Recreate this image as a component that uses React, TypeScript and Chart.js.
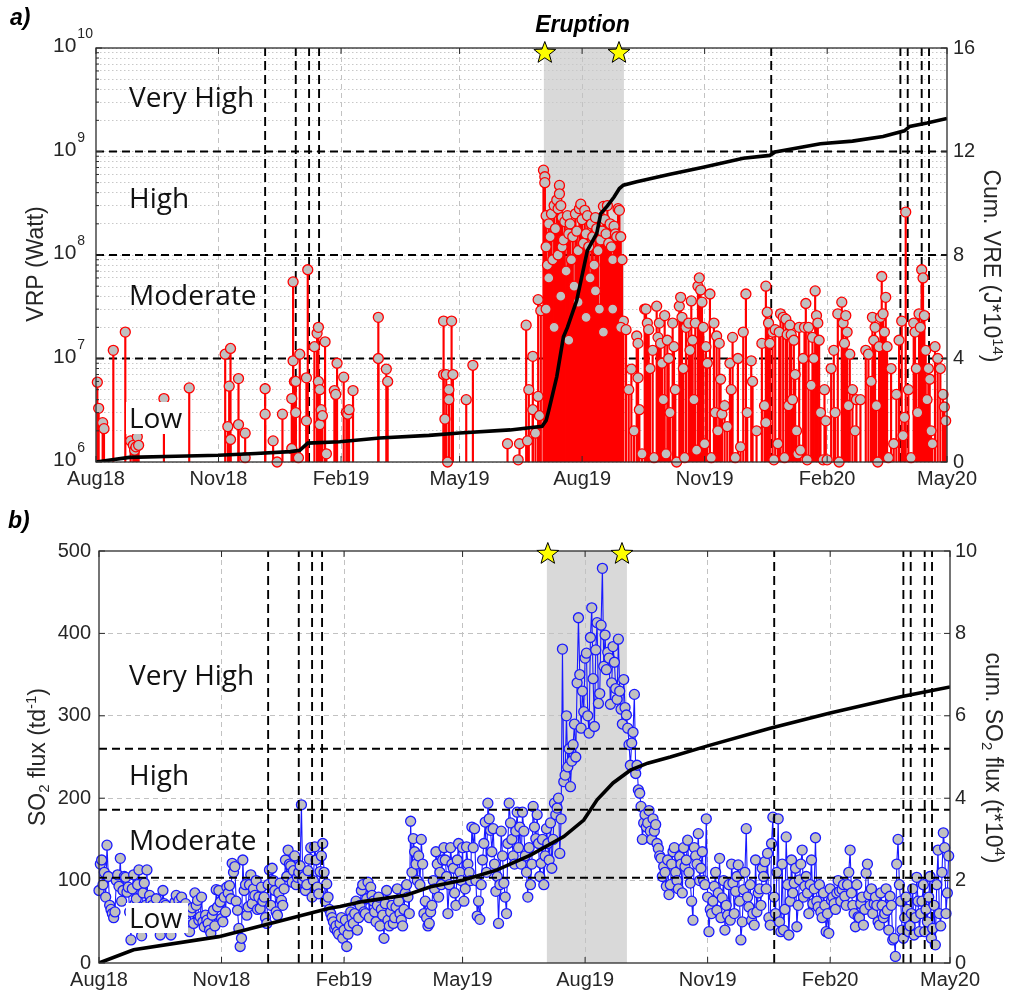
import React, { useEffect, useRef } from 'react';
import { Chart, registerables } from 'chart.js';

Chart.register(...registerables);

const SANS = '"Liberation Sans", Arial, Helvetica, sans-serif';
const CLASS_FONT = '"Open Sans", "Noto Sans", sans-serif';

// ---------- shared time axis: days since 1 Aug 2018 ----------
const X_MAX = 639;
const X_TICK_DAYS = [0, 92, 184, 273, 365, 457, 549, 639];
const X_TICK_LABELS = ['Aug18', 'Nov18', 'Feb19', 'May19', 'Aug19', 'Nov19', 'Feb20', 'May20'];
const ERUPTION_START = 336.3;
const ERUPTION_END = 396.4;
const STAR_DAYS = [337, 392.7];
const EVENT_DAYS = [127, 150, 160, 167.5, 507, 604, 609.5, 620, 625.5];
const CLASS_LABELS = ['Very High', 'High', 'Moderate', 'Low'];

// ---------- panel a: VRP ----------
const VRP_THRESHOLDS = [1e7, 1e8, 1e9];
const LOG_EXPONENTS = [6, 7, 8, 9, 10];
const VRE_TICK_STEP = 4;

const VRP_DAYS = [
  1, 2, 5, 6, 13, 22, 26, 28, 29, 30,
  31, 32, 51, 70, 97, 99, 100, 101, 101, 107,
  107, 112, 112, 127, 127, 133, 136, 140, 147, 147,
  148, 148, 149, 150, 150, 152, 153, 158, 158, 159,
  164, 166, 167, 167, 168, 168, 169, 170, 172, 173,
  179, 180, 181, 186, 188, 189, 190, 193, 212, 212,
  218, 219, 261, 261, 262, 263, 264, 265, 265, 267,
  268, 278, 283, 309, 317, 318, 323, 324, 325, 328,
  328, 330, 332, 332, 333, 334,
  336, 337, 337, 338, 338, 339, 340, 340, 341, 342,
  343, 344, 345, 346, 347, 347, 348, 348, 349, 350,
  350, 351, 352, 353, 354, 355, 356, 357, 358, 359,
  360, 361, 362, 363, 364, 365, 366, 367, 368, 369,
  370, 371, 372, 373, 374, 375, 376, 377, 378, 379,
  380, 381, 382, 383, 384, 385, 386, 387, 388, 389,
  390, 391, 392, 393, 394, 395, 396,
  338, 344, 349, 355, 362, 368, 375, 381, 388, 394,
  398, 400, 402, 404, 406, 407, 407, 408, 410, 412,
  413, 414, 415, 416, 418, 419, 421, 422, 423, 424,
  425, 426, 427, 428, 429, 430, 431, 433, 434, 435,
  436, 438, 439, 440, 441, 442, 443, 445, 446, 447,
  448, 449, 450, 451, 452, 453, 454, 455, 456, 457,
  458, 459, 461, 462, 464, 465, 466, 467, 468, 469,
  470, 472, 474, 476, 477, 478, 480, 482, 484, 486,
  488, 489, 492, 493, 496, 500, 502, 503, 503, 504,
  505, 506, 508, 509, 510, 512, 513, 514, 516, 517,
  518, 519, 520, 521, 522, 523, 524, 525, 526, 527,
  528, 529, 531, 532, 533, 534, 535, 537, 538, 539,
  540, 541, 542, 543, 544, 546, 547, 548, 549, 552,
  554, 555, 557, 558, 560, 561, 562, 563, 564, 565,
  566, 568, 570, 571, 574, 578, 580, 582, 583, 584,
  585, 586, 587, 588, 589, 590, 591, 592, 593, 594,
  595, 597, 599, 601, 603, 605, 606, 607, 608, 610,
  612, 614, 615, 616, 617, 618, 619, 620, 621, 622,
  623, 624, 625, 626, 627, 628, 630, 632, 634, 636,
  637, 638,
];
const VRP_WATTS = [
  5.9e6, 3.3e6, 2.4e6, 2.1e6, 1.2e7, 1.8e7, 1.6e6, 1.45e6, 1.3e6, 1.4e6,
  1.75e6, 1.45e6, 4.1e6, 5.2e6, 1.1e7, 2.2e6, 5.4e6, 1.25e7, 1.65e6, 6.4e6,
  2.3e6, 1.9e6, 1.1e6, 5.1e6, 2.9e6, 1.6e6, 1.0e6, 2.9e6, 1.35e6, 4.1e6,
  9.5e6, 5.5e7, 6e6, 3e6, 6e6, 1.1e6, 1.1e7, 6.5e6, 2.5e6, 7.2e7,
  1.3e7, 1.75e7, 2e7, 6e6, 5e6, 2.3e6, 3.2e6, 2.8e6, 1.45e7, 1.2e6,
  4.9e6, 4.5e6, 9e6, 6.6e6, 3e6, 2.9e6, 3.2e6, 4.9e6, 2.5e7, 1e7,
  7.9e6, 6e6, 2.3e7, 7e6, 2.6e6, 7e6, 1e6, 5e6, 4e6, 2.3e7,
  7e6, 4e6, 8.6e6, 1.5e6, 1.05e6, 1.5e6, 2.1e7, 1.6e6, 5e6, 1.05e7,
  3.2e6, 1.9e6, 3.7e7, 4.3e6, 2.8e6, 2.9e7,
  6.6e8, 5.7e8, 5e8, 2.4e8, 1.2e8, 8e7, 2e8, 6e7, 1.5e8, 2.5e8,
  9e7, 3e8, 1.8e8, 3.4e8, 2.8e8, 1e8, 4.7e8, 3.9e8, 3e8, 2.3e8,
  1.2e8, 1.4e8, 2.1e8, 7e7, 2.4e8, 1.6e8, 2e8, 9e7, 1.5e8, 5e7,
  2.5e8, 1.7e8, 1.1e8, 2.8e8, 3.1e8, 2.2e8, 1.3e8, 2.7e8, 1.6e8, 2.4e8,
  1.2e8, 6e7, 2e8, 1.5e8, 8e7, 2.3e8, 1.8e8, 1.1e8, 3e7, 1.4e8,
  1.7e8, 2.95e8, 2.2e8, 1.6e8, 3e8, 1.3e8, 2e8, 1.2e8, 9e7, 1.9e8,
  1.6e8, 1.5e8, 2.8e8, 2.7e8, 1.5e8, 9e7, 2.3e7,
  3e7, 2e7, 4e7, 1.5e7, 3.5e7, 2.5e7, 4.5e7, 1.8e7, 3e7, 2e7,
  1.9e7, 5e6, 7.9e6, 2e6, 1.65e7, 1.4e7, 6.5e6, 3.2e6, 1.2e6, 3e7,
  3e7, 2.2e7, 1.9e7, 8e6, 1.2e7, 1.1e6, 3.2e7, 1.6e7, 2.2e7, 1.4e7,
  9e6, 4e6, 2.6e7, 1.2e6, 1.5e7, 1e7, 3e6, 2.2e7, 1.3e7, 5e6,
  1e6, 3.2e7, 3.9e7, 2.5e7, 8e6, 1.1e6, 2e7, 2.2e7, 1.2e7, 3.6e7,
  1.5e7, 4e6, 2.2e7, 1.3e6, 5e7, 6e7, 4.6e7, 3.5e7, 2e7, 1.5e6,
  1.3e7, 9e6, 4.2e7, 1.1e6, 2.2e7, 3e6, 1.65e7, 2e6, 1.4e7, 6.3e6,
  2.9e6, 3.5e6, 2.2e6, 9e6, 5e6, 1.6e7, 1.1e6, 1e7, 1.4e6, 1.8e7,
  4.2e7, 3e6, 9.5e6, 6e6, 2e6, 1.4e7, 3.5e6, 5e7, 2.4e6, 2.8e7,
  2.2e7, 1.4e7, 1.8e7, 1.05e6, 1.9e7, 1.5e6, 1.8e7, 2.7e7, 2.5e7, 1.1e6,
  2.4e7, 1.7e7, 3.5e6, 2.1e7, 1.7e7, 4e6, 1.5e7, 7e6, 2e6, 1.2e6,
  2e7, 1.3e6, 1e7, 2e7, 3.4e7, 1.05e6, 2e7, 5.5e6, 1.6e7, 1e7,
  4.5e7, 2.6e7, 2.2e7, 1.5e7, 3e6, 1.05e6, 5e6, 2.5e6, 1.05e6, 8e6,
  1.2e7, 3e6, 2.7e7, 1e6, 3.5e7, 2.2e7, 1.4e7, 2.6e7, 1.8e7, 3.5e6,
  1.1e7, 5e6, 2e6, 4e6, 4e6, 1.2e7, 1.1e7, 6e6, 2.5e7, 1.5e7,
  2e7, 3.5e6, 1e6, 1.3e7, 2.5e7, 6.2e7, 2.7e7, 1.8e7, 3.9e7, 1.3e7,
  1.1e6, 8e6, 1.5e6, 4.5e6, 1.5e7, 2.3e7, 1.8e6, 2.7e6, 2.6e8, 5e6,
  1.1e6, 2.2e7, 1.8e7, 8e6, 3e6, 2.7e7, 2e7, 7.2e7, 6e7, 2.6e7,
  1.2e7, 4e6, 8e6, 6.3e6, 2e6, 1.5e6, 1.3e7, 1e7, 8e6, 4.5e6,
  3.4e6, 2.5e6,
];

const CUM_VRE_DAYS = [0, 25, 60, 92, 120, 146, 153, 159, 183, 213, 250, 273, 311, 335, 338, 340, 346, 351, 354, 361, 369, 376, 379, 384, 389, 393, 396, 406, 431, 456, 486, 506, 510, 544, 568, 591, 607, 611, 624, 639];
const CUM_VRE_VALUES = [0, 0.18, 0.22, 0.26, 0.33, 0.4, 0.45, 0.73, 0.78, 0.93, 1.03, 1.12, 1.24, 1.38, 1.6, 2.0, 3.3, 4.84, 5.2, 6.25, 8.18, 8.84, 9.6, 9.9, 10.24, 10.57, 10.7, 10.83, 11.12, 11.39, 11.74, 11.85, 11.98, 12.3, 12.4, 12.58, 12.8, 12.97, 13.1, 13.28];

// ---------- panel b: SO2 (daily, t/d) ----------
const SO2_THRESHOLDS = [103.5, 186, 260];
// readings on even days (0, 2, 4, ... 638)
const SO2_FLUX_EVEN_DAYS = [
  88, 125, 110, 143, 70, 60, 62, 107, 127, 88,
  104, 92, 28, 107, 78, 113, 33, 97, 113, 82,
  70, 64, 66, 34, 88, 70, 55, 34, 60, 82,
  76, 80, 58, 60, 38, 67, 85, 76, 56, 50,
  58, 48, 36, 64, 89, 88, 54, 80, 92, 94,
  121, 117, 64, 20, 125, 95, 68, 107, 90, 100,
  80, 92, 80, 48, 113, 115, 88, 58, 97, 70,
  125, 137, 118, 112, 95, 110, 192, 105, 95, 126,
  80, 141, 92, 111, 145, 75, 80, 60, 50, 45,
  35, 55, 40, 20, 45, 55, 60, 40, 70, 95,
  60, 98, 92, 75, 50, 80, 65, 30, 88, 45,
  70, 55, 90, 60, 45, 85, 80, 172, 151, 120,
  130, 150, 60, 55, 48, 70, 90, 120, 110, 125,
  125, 60, 140, 115, 70, 145, 100, 75, 141, 110,
  165, 163, 57, 53, 125, 171, 194, 161, 163, 87,
  48, 160, 97, 60, 194, 150, 120, 183, 165, 183,
  130, 80, 95, 190, 151, 145, 121, 95, 163, 125,
  115, 194, 188, 133, 381, 228, 238, 214, 265, 250,
  419, 285, 305, 376, 279, 431, 287, 413, 327, 479,
  398, 377, 314, 384, 333, 393, 308, 344, 301, 265,
  267, 326, 240, 206, 150, 180, 170, 160, 175, 168,
  139, 127, 117, 93, 83, 120, 140, 100, 129, 85,
  117, 149, 97, 52, 130, 157, 115, 100, 175, 38,
  60, 93, 64, 127, 79, 40, 58, 52, 97, 87,
  119, 28, 89, 163, 68, 52, 46, 62, 90, 115,
  123, 133, 46, 177, 60, 175, 38, 40, 153, 34,
  125, 97, 44, 101, 137, 93, 85, 95, 72, 152,
  68, 62, 85, 38, 36, 76, 72, 85, 87, 89,
  81, 95, 137, 70, 44, 56, 72, 46, 109, 83,
  90, 72, 70, 46, 70, 60, 64, 81, 28, 8,
  150, 75, 30, 80, 38, 60, 34, 104, 38, 75,
  38, 50, 105, 42, 22, 137, 45, 158, 60, 130,
];
// readings on odd days (1, 3, 5, ... 637)
const SO2_FLUX_ODD_DAYS = [
  120, 95, 80, 105, 65, 55, 100, 93, 75, 105,
  86, 62, 90, 72, 95, 60, 85, 70, 58, 75,
  62, 78, 45, 55, 72, 60, 48, 66, 74, 58,
  68, 55, 72, 45, 62, 48, 70, 52, 80, 44,
  52, 40, 58, 45, 68, 74, 50, 62, 85, 78,
  110, 75, 42, 30, 88, 58, 95, 72, 82, 65,
  66, 75, 55, 95, 70, 100, 62, 85, 76, 90,
  105, 120, 98, 130, 104, 118, 100, 88, 112, 140,
  100, 125, 84, 130, 110, 96, 65, 55, 42, 38,
  48, 30, 52, 35, 62, 48, 75, 55, 88, 62,
  78, 55, 82, 62, 70, 45, 58, 72, 52, 62,
  48, 68, 75, 52, 65, 95, 60, 110, 135, 100,
  95, 120, 75, 45, 62, 100, 135, 80, 95, 140,
  105, 95, 120, 85, 125, 110, 140, 90, 120, 100,
  140, 100, 75, 95, 145, 110, 175, 135, 120, 105,
  95, 130, 80, 145, 170, 130, 160, 140, 120, 160,
  110, 140, 120, 165, 180, 105, 150, 130, 145, 170,
  150, 180, 200, 175, 220, 300, 260, 245, 290, 340,
  350, 330, 370, 300, 395, 345, 380, 315, 410, 360,
  356, 370, 340, 365, 320, 330, 290, 310, 285, 240,
  280, 230, 210, 190, 170, 165, 185, 150, 160, 145,
  130, 105, 110, 125, 95, 135, 110, 90, 120, 140,
  125, 110, 75, 140, 120, 100, 135, 95, 80, 65,
  75, 110, 85, 55, 100, 70, 95, 120, 60, 105,
  75, 50, 110, 80, 95, 60, 125, 85, 70, 105,
  90, 55, 145, 80, 110, 50, 120, 65, 95, 75,
  85, 115, 70, 120, 80, 105, 60, 125, 90, 75,
  95, 55, 70, 60, 90, 80, 65, 100, 75, 95,
  70, 110, 85, 60, 95, 55, 80, 65, 120, 70,
  60, 80, 50, 85, 55, 90, 40, 70, 30, 120,
  95, 40, 55, 65, 45, 90, 55, 75, 60, 95,
  65, 80, 30, 70, 95, 60, 110, 140, 85,
];
const CUM_SO2_DAYS = [0, 26, 90, 173, 181, 198, 231, 249, 273, 299, 324, 349, 364, 374, 386, 399, 412, 429, 457, 504, 549, 602, 639];
const CUM_SO2_VALUES = [0, 0.32, 0.64, 1.33, 1.37, 1.49, 1.65, 1.85, 2.01, 2.26, 2.62, 3.07, 3.47, 3.96, 4.37, 4.68, 4.85, 5.0, 5.27, 5.70, 6.07, 6.46, 6.70];

// ---------- helpers ----------
const TICK_COLOR = '#262626';

function xScaleOptions(axisHeight: number) {
  return {
    type: 'linear',
    min: 0,
    max: X_MAX,
    offset: false,
    afterBuildTicks: (s: any) => {
      s.ticks = X_TICK_DAYS.map((v) => ({ value: v }));
    },
    afterFit: (s: any) => {
      s.height = axisHeight;
    },
    ticks: {
      autoSkip: false,
      maxRotation: 0,
      minRotation: 0,
      padding: 5,
      color: TICK_COLOR,
      font: { family: SANS, size: 20 },
      callback: (v: number) => {
        const i = X_TICK_DAYS.indexOf(v);
        return i >= 0 ? X_TICK_LABELS[i] : '';
      },
    },
    grid: {
      offset: false,
      drawTicks: false,
      lineWidth: 1,
      color: (c: any) =>
        c.tick && (c.tick.value === 0 || c.tick.value === X_MAX) ? 'rgba(0,0,0,0)' : '#c2c2c2',
    },
    border: { display: false, dash: [5, 4] },
  };
}

function hLineDataset(level: number, order: number) {
  return {
    type: 'line',
    data: [
      { x: 0, y: level },
      { x: X_MAX, y: level },
    ],
    borderColor: '#000',
    borderWidth: 1.9,
    borderDash: [8, 5],
    pointRadius: 0,
    yAxisID: 'y',
    order,
  };
}

function vLineDataset(day: number, lo: number, hi: number, order: number) {
  return {
    type: 'line',
    data: [
      { x: day, y: lo },
      { x: day, y: hi },
    ],
    borderColor: '#000',
    borderWidth: 1.9,
    borderDash: [9, 5],
    pointRadius: 0,
    yAxisID: 'y',
    order,
  };
}

function drawBand(chart: any) {
  const { ctx, chartArea: a, scales } = chart;
  const x0 = scales.x.getPixelForValue(ERUPTION_START);
  const x1 = scales.x.getPixelForValue(ERUPTION_END);
  ctx.save();
  ctx.fillStyle = '#d9d9d9';
  ctx.fillRect(x0, a.top, x1 - x0, a.bottom - a.top);
  ctx.restore();
}

function line(ctx: any, x0: number, y0: number, x1: number, y1: number) {
  ctx.beginPath();
  ctx.moveTo(x0, y0);
  ctx.lineTo(x1, y1);
  ctx.stroke();
}

function drawFrame(chart: any, leftTicks: { v: number; len: number }[]) {
  const { ctx, chartArea: a, scales } = chart;
  ctx.save();
  ctx.strokeStyle = '#2b2b2b';
  ctx.lineWidth = 1;
  for (const d of X_TICK_DAYS) {
    const px = scales.x.getPixelForValue(d);
    line(ctx, px, a.bottom, px, a.bottom - 6);
    line(ctx, px, a.top, px, a.top + 6);
  }
  for (const t of scales.y2.ticks) {
    const py = scales.y2.getPixelForValue(t.value);
    line(ctx, a.right, py, a.right - 6, py);
  }
  for (const t of leftTicks) {
    const py = scales.y.getPixelForValue(t.v);
    line(ctx, a.left, py, a.left + t.len, py);
  }
  ctx.lineWidth = 1.3;
  ctx.strokeRect(a.left, a.top, a.right - a.left, a.bottom - a.top);
  ctx.restore();
}

function drawStar(ctx: any, cx: number, cy: number, R: number, r: number) {
  ctx.beginPath();
  for (let i = 0; i < 10; i++) {
    const ang = -Math.PI / 2 + (i * Math.PI) / 5;
    const rad = i % 2 === 0 ? R : r;
    const px = cx + rad * Math.cos(ang);
    const py = cy + rad * Math.sin(ang);
    if (i === 0) ctx.moveTo(px, py);
    else ctx.lineTo(px, py);
  }
  ctx.closePath();
  ctx.fillStyle = '#ffff00';
  ctx.fill();
  ctx.strokeStyle = '#000';
  ctx.lineWidth = 1;
  ctx.stroke();
}

function drawStars(chart: any, cy: number) {
  const { ctx, scales } = chart;
  ctx.save();
  for (const d of STAR_DAYS) drawStar(ctx, scales.x.getPixelForValue(d), cy, 11.5, 4.8);
  ctx.restore();
}

type Run = { t: string; size: number; dy: number };
function drawRich(ctx: any, runs: Run[], bx: number, cy: number, rot: number) {
  ctx.save();
  ctx.translate(bx, cy);
  ctx.rotate(rot);
  const widths: number[] = [];
  let total = 0;
  for (const r of runs) {
    ctx.font = `${r.size}px ${SANS}`;
    const w = ctx.measureText(r.t).width;
    widths.push(w);
    total += w;
  }
  let x = -total / 2;
  ctx.fillStyle = TICK_COLOR;
  ctx.textAlign = 'left';
  ctx.textBaseline = 'alphabetic';
  runs.forEach((r, i) => {
    ctx.font = `${r.size}px ${SANS}`;
    ctx.fillText(r.t, x, r.dy);
    x += widths[i];
  });
  ctx.restore();
}

function drawClassLabels(ctx: any, ys: number[], box: number[]) {
  ctx.save();
  ctx.fillStyle = '#ffffff';
  ctx.fillRect(box[0], box[1], box[2], box[3]);
  ctx.font = `28px ${CLASS_FONT}`;
  ctx.fillStyle = '#111';
  ctx.textAlign = 'left';
  ctx.textBaseline = 'alphabetic';
  CLASS_LABELS.forEach((t, i) => ctx.fillText(t, 129, ys[i]));
  ctx.restore();
}

function drawItalicBold(ctx: any, text: string, x: number, y: number, size: number, align: string) {
  ctx.save();
  ctx.font = `italic bold ${size}px ${SANS}`;
  ctx.fillStyle = '#000';
  ctx.textAlign = align;
  ctx.textBaseline = 'alphabetic';
  ctx.fillText(text, x, y);
  ctx.restore();
}

const LOG_TICKS: number[] = [];
LOG_EXPONENTS.forEach((e) => {
  if (e === 10) LOG_TICKS.push(1e10);
  else for (let k = 1; k <= 9; k++) LOG_TICKS.push(k * Math.pow(10, e));
});

// ---------- top chart ----------
function buildTop(canvas: HTMLCanvasElement) {
  const points = VRP_DAYS.map((d, i) => ({ x: d, y: VRP_WATTS[i] }));
  const stems = VRP_DAYS.map((d, i) => ({ x: d, y: [1e6, VRP_WATTS[i]] }));
  const cum = CUM_VRE_DAYS.map((d, i) => ({ x: d, y: CUM_VRE_VALUES[i] }));

  const datasets: any[] = [
    {
      type: 'line',
      data: cum,
      yAxisID: 'y2',
      borderColor: '#000',
      borderWidth: 3.6,
      pointRadius: 0,
      tension: 0,
      order: 0,
    },
    {
      type: 'line',
      data: points,
      yAxisID: 'y',
      showLine: false,
      pointRadius: 5,
      pointBackgroundColor: '#c0c0c0',
      pointBorderColor: '#ff0000',
      pointBorderWidth: 1.3,
      clip: false,
      order: 1,
    },
    {
      type: 'bar',
      data: stems,
      yAxisID: 'y',
      backgroundColor: '#ff0000',
      barThickness: 1.5,
      order: 2,
    },
    ...VRP_THRESHOLDS.map((l) => hLineDataset(l, 3)),
    ...EVENT_DAYS.map((d) => vLineDataset(d, 1e6, 1e10, 3)),
  ];

  const decor = {
    id: 'topDecor',
    beforeDraw(chart: any) {
      drawBand(chart);
    },
    afterDatasetsDraw(chart: any) {
      drawClassLabels(chart.ctx, [107, 208, 305, 428], [126, 402, 62, 32]);
    },
    afterDraw(chart: any) {
      const { ctx, scales } = chart;
      const leftTicks = LOG_TICKS.map((v) => ({ v, len: Number.isInteger(Math.log10(v)) ? 6 : 3 }));
      drawFrame(chart, leftTicks);
      ctx.save();
      ctx.fillStyle = TICK_COLOR;
      ctx.textAlign = 'left';
      ctx.textBaseline = 'alphabetic';
      for (const e of LOG_EXPONENTS) {
        const py = scales.y.getPixelForValue(Math.pow(10, e));
        ctx.font = `21px ${SANS}`;
        ctx.fillText('10', 53, py + 4);
        const w = ctx.measureText('10').width;
        ctx.font = `14px ${SANS}`;
        ctx.fillText(String(e), 53 + w + 1, py + 4 - 14);
      }
      ctx.restore();
      drawStars(chart, chart.chartArea.top + 5);
      drawRich(ctx, [{ t: 'VRP (Watt)', size: 23, dy: 0 }], 43, 264, -Math.PI / 2);
      drawRich(
        ctx,
        [
          { t: 'Cum. VRE (J*10', size: 23, dy: 0 },
          { t: '14', size: 15, dy: -9 },
          { t: ')', size: 23, dy: 0 },
        ],
        984,
        266,
        Math.PI / 2
      );
      drawItalicBold(ctx, 'a)', 10, 25, 23, 'left');
      drawItalicBold(ctx, 'Eruption', 582.5, 32, 23, 'center');
    },
  };

  return new Chart(canvas, {
    type: 'line',
    data: { datasets },
    options: {
      responsive: false,
      animation: false,
      events: [],
      layout: { padding: { top: 48, left: 0, right: 0, bottom: 0 } },
      plugins: { legend: { display: false }, tooltip: { enabled: false } },
      scales: {
        x: xScaleOptions(38),
        y: {
          type: 'logarithmic',
          position: 'left',
          min: 1e6,
          max: 1e10,
          afterBuildTicks: (s: any) => {
            s.ticks = LOG_TICKS.map((v) => ({ value: v }));
          },
          afterFit: (s: any) => {
            s.width = 96;
          },
          ticks: { display: false },
          grid: { drawTicks: false, lineWidth: 1, color: '#c8c8c8' },
          border: { display: false, dash: [1.5, 2.5] },
        },
        y2: {
          type: 'linear',
          position: 'right',
          min: 0,
          max: 16,
          afterFit: (s: any) => {
            s.width = 63;
          },
          ticks: { stepSize: VRE_TICK_STEP, padding: 6, color: TICK_COLOR, font: { family: SANS, size: 20 } },
          grid: { display: false, drawTicks: false },
          border: { display: false },
        },
      },
    } as any,
    plugins: [decor],
  } as any);
}

// ---------- bottom chart ----------
function buildBottom(canvas: HTMLCanvasElement) {
  const so2: { x: number; y: number }[] = [];
  SO2_FLUX_EVEN_DAYS.forEach((v, i) => {
    so2.push({ x: 2 * i, y: v });
    if (i < SO2_FLUX_ODD_DAYS.length) so2.push({ x: 2 * i + 1, y: SO2_FLUX_ODD_DAYS[i] });
  });
  const cum = CUM_SO2_DAYS.map((d, i) => ({ x: d, y: CUM_SO2_VALUES[i] }));

  const datasets: any[] = [
    {
      type: 'line',
      data: cum,
      yAxisID: 'y2',
      borderColor: '#000',
      borderWidth: 3.6,
      pointRadius: 0,
      tension: 0,
      order: 0,
    },
    ...SO2_THRESHOLDS.map((l) => hLineDataset(l, 1)),
    ...EVENT_DAYS.map((d) => vLineDataset(d, 0, 500, 1)),
    {
      type: 'line',
      data: so2,
      yAxisID: 'y',
      borderColor: '#1a1aff',
      borderWidth: 1.1,
      pointRadius: 5,
      pointBackgroundColor: '#c0c0c0',
      pointBorderColor: '#1a1aff',
      pointBorderWidth: 1.3,
      tension: 0,
      clip: false,
      order: 2,
    },
  ];

  const decor = {
    id: 'bottomDecor',
    beforeDraw(chart: any) {
      drawBand(chart);
    },
    afterDatasetsDraw(chart: any) {
      drawClassLabels(chart.ctx, [185, 285, 350, 428], [126, 403, 62, 30]);
    },
    afterDraw(chart: any) {
      const { ctx, scales } = chart;
      const leftTicks = scales.y.ticks.map((t: any) => ({ v: t.value, len: 6 }));
      drawFrame(chart, leftTicks);
      drawStars(chart, chart.chartArea.top + 3);
      drawRich(
        ctx,
        [
          { t: 'SO', size: 23, dy: 0 },
          { t: '2', size: 15, dy: 4 },
          { t: ' flux (td', size: 23, dy: 0 },
          { t: '-1', size: 15, dy: -9 },
          { t: ')', size: 23, dy: 0 },
        ],
        45,
        257,
        -Math.PI / 2
      );
      drawRich(
        ctx,
        [
          { t: 'cum. SO', size: 23, dy: 0 },
          { t: '2', size: 15, dy: 4 },
          { t: ' flux (t*10', size: 23, dy: 0 },
          { t: '4', size: 15, dy: -9 },
          { t: ')', size: 23, dy: 0 },
        ],
        986,
        258,
        Math.PI / 2
      );
      drawItalicBold(ctx, 'b)', 8, 28, 23, 'left');
    },
  };

  return new Chart(canvas, {
    type: 'line',
    data: { datasets },
    options: {
      responsive: false,
      animation: false,
      events: [],
      layout: { padding: { top: 51, left: 0, right: 0, bottom: 0 } },
      plugins: { legend: { display: false }, tooltip: { enabled: false } },
      scales: {
        x: xScaleOptions(38),
        y: {
          type: 'linear',
          position: 'left',
          min: 0,
          max: 500,
          afterFit: (s: any) => {
            s.width = 99;
          },
          ticks: { stepSize: 100, padding: 8, color: TICK_COLOR, font: { family: SANS, size: 20 } },
          grid: {
            drawTicks: false,
            lineWidth: 1,
            color: (c: any) =>
              c.tick && (c.tick.value === 0 || c.tick.value === 500) ? 'rgba(0,0,0,0)' : '#c2c2c2',
          },
          border: { display: false, dash: [5, 4] },
        },
        y2: {
          type: 'linear',
          position: 'right',
          min: 0,
          max: 10,
          afterFit: (s: any) => {
            s.width = 60;
          },
          ticks: { stepSize: 2, padding: 5, color: TICK_COLOR, font: { family: SANS, size: 20 } },
          grid: { display: false, drawTicks: false },
          border: { display: false },
        },
      },
    } as any,
    plugins: [decor],
  } as any);
}

export default function App() {
  const topRef = useRef<HTMLCanvasElement | null>(null);
  const botRef = useRef<HTMLCanvasElement | null>(null);

  useEffect(() => {
    const c1 = buildTop(topRef.current as HTMLCanvasElement);
    const c2 = buildBottom(botRef.current as HTMLCanvasElement);
    return () => {
      c1.destroy();
      c2.destroy();
    };
  }, []);

  return (
    <div style={{ position: 'fixed', left: 0, top: 0, width: 1010, height: 1001, background: '#fff' }}>
      <canvas
        ref={topRef}
        width={1010}
        height={500}
        style={{ position: 'absolute', left: 0, top: 0, width: 1010, height: 500, display: 'block' }}
      />
      <canvas
        ref={botRef}
        width={1010}
        height={501}
        style={{ position: 'absolute', left: 0, top: 500, width: 1010, height: 501, display: 'block' }}
      />
    </div>
  );
}
